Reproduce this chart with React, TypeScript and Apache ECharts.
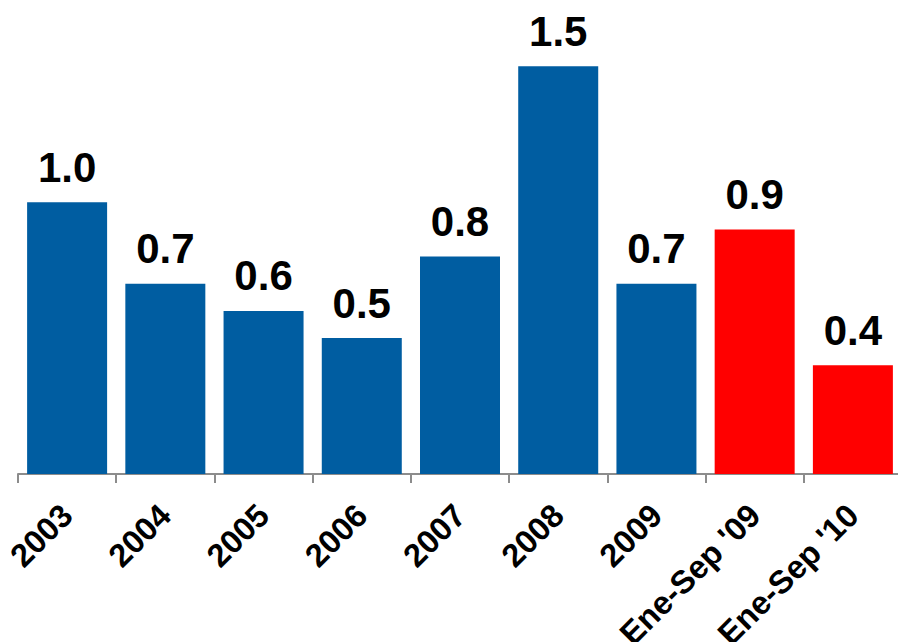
import React, { useEffect, useRef } from "react";
import * as echarts from "echarts";

const categories = ["2003", "2004", "2005", "2006", "2007", "2008", "2009", "Ene-Sep '09", "Ene-Sep '10"];
const values = [1.0, 0.7, 0.6, 0.5, 0.8, 1.5, 0.7, 0.9, 0.4];
const barColors = ["#005da1", "#005da1", "#005da1", "#005da1", "#005da1", "#005da1", "#005da1", "#ff0000", "#ff0000"];

export default function App() {
  const ref = useRef<HTMLDivElement>(null);
  useEffect(() => {
    document.body.style.margin = "0";
    const chart = echarts.init(ref.current!, null, { renderer: "svg" });
    chart.setOption({
      animation: false,
      grid: { left: 18, width: 884, top: 12, height: 462, containLabel: false, outerBoundsMode: "none" },
      xAxis: {
        type: "category",
        data: categories,
        axisLine: { show: true, lineStyle: { color: "#8c8c8c", width: 2 } },
        axisTick: { show: true, length: 9, lineStyle: { color: "#8c8c8c", width: 2 } },
        axisLabel: {
          rotate: 45,
          margin: 36,
          fontSize: 32.5,
          fontWeight: "bold",
          color: "#000",
          fontFamily: "Liberation Sans, Arial, sans-serif",
          interval: 0,
        },
      },
      yAxis: { type: "value", min: 0, max: 1.7, show: false, splitLine: { show: false } },
      series: [
        {
          type: "bar",
          barWidth: 80,
          data: values.map((v, i) => ({ value: v, itemStyle: { color: barColors[i] } })),
          label: {
            show: true,
            position: "top",
            distance: 14,
            fontSize: 42,
            fontWeight: "bold",
            color: "#000",
            fontFamily: "Liberation Sans, Arial, sans-serif",
            formatter: (p: any) => Number(p.value).toFixed(1),
          },
        },
      ],
    });
    return () => chart.dispose();
  }, []);
  return <div ref={ref} style={{ width: 898, height: 642 }} />;
}
